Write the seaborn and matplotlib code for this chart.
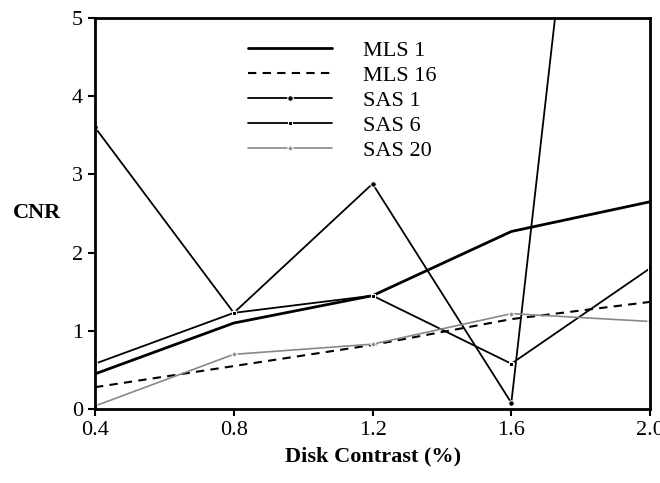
import matplotlib
matplotlib.use('Agg')
import matplotlib.pyplot as plt
import seaborn as sns

contrast = [0.4, 0.8, 1.2, 1.6, 2.0]
mls1 = [0.45, 1.10, 1.45, 2.27, 2.65]
mls16 = [0.28, 0.55, 0.82, 1.15, 1.37]
sas1 = [3.60, 1.23, 2.88, 0.08, 15.7]
sas6 = [0.58, 1.23, 1.45, 0.58, 1.80]
sas20 = [0.04, 0.70, 0.83, 1.22, 1.12]

sns.set_theme(style='ticks')
plt.rcParams['font.family'] = ['Liberation Serif', 'DejaVu Serif']
plt.rcParams['text.color'] = 'black'
plt.rcParams['axes.labelcolor'] = 'black'

fig = plt.figure(figsize=(6.6, 4.83), dpi=100)
ax = fig.add_axes([0.144, 0.153, 0.841, 0.81])

sns.lineplot(x=contrast, y=mls1, ax=ax, color='black', lw=2.0, label='MLS 1')
sns.lineplot(x=contrast, y=mls16, ax=ax, color='black', lw=1.5, linestyle=(0, (4, 3)), label='MLS 16')
sns.lineplot(x=contrast, y=sas1, ax=ax, color='black', lw=1.3, marker='o', markersize=4, label='SAS 1')
sns.lineplot(x=contrast, y=sas6, ax=ax, color='black', lw=1.3, marker='s', markersize=3.5, label='SAS 6')
sns.lineplot(x=contrast, y=sas20, ax=ax, color='#888888', lw=1.2, marker='D', markersize=3, label='SAS 20')

ax.set_xlim(0.4, 2.0)
ax.set_ylim(0, 5)
ax.set_xticks(contrast)
ax.set_xticklabels(['0.4', '0.8', '1.2', '1.6', '2.0'])
ax.set_yticks([0, 1, 2, 3, 4, 5])
ax.tick_params(labelsize=16, direction='out', length=5, width=1.5, colors='black')
for s in ax.spines.values():
    s.set_linewidth(2)
    s.set_color('black')

ax.set_xlabel('Disk Contrast (%)', fontsize=16, fontweight='bold', labelpad=5)
ax.set_ylabel('CNR', fontsize=16, fontweight='bold', rotation=0, labelpad=25, va='center')

leg = ax.legend(loc='upper left', bbox_to_anchor=(0.235, 1.0), frameon=False, fontsize=16,
                handlelength=3.8, handletextpad=1.4, labelspacing=0.2, borderaxespad=0.6)

fig.savefig('out.png', dpi=100)
